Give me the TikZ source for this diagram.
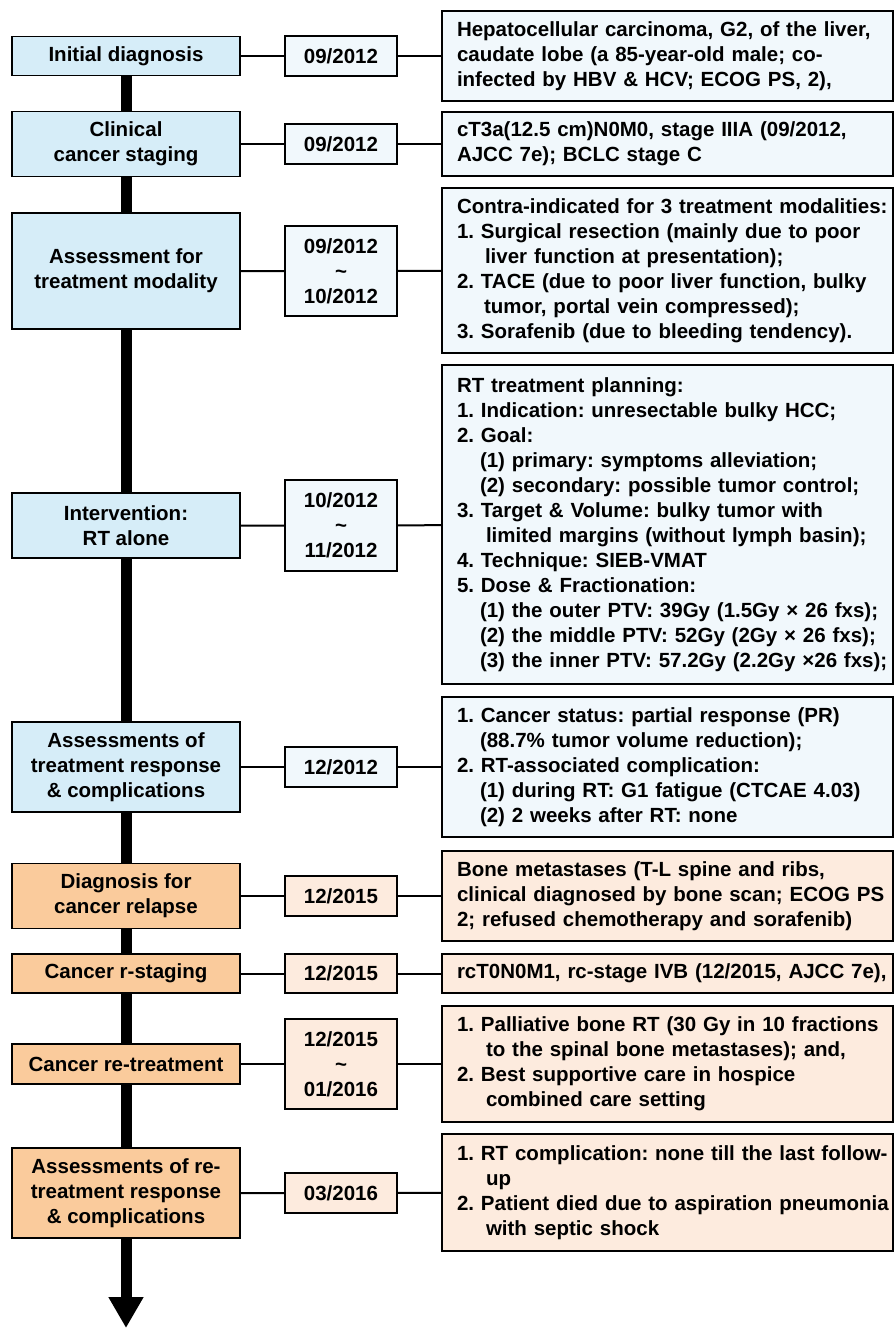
\documentclass[tikz,border=0pt]{standalone}
\usepackage{fontspec}
\setmainfont{Liberation Sans}
\usetikzlibrary{arrows.meta,backgrounds}
\definecolor{stageblue}{RGB}{214,237,248}
\definecolor{paleblue}{RGB}{241,248,252}
\definecolor{stageorange}{RGB}{250,203,156}
\definecolor{paleorange}{RGB}{253,235,222}
\frenchspacing

\begin{document}
\begin{tikzpicture}[x=1pt,y=1pt,yscale=-1,xscale=1,
	every node/.style={font=\fontsize{20.5}{25}\selectfont\bfseries\frenchspacing},
	stage/.style={draw,line width=1.5pt,minimum width=228pt,align=center,inner sep=0pt},
	datebox/.style={draw,line width=1.5pt,minimum width=112pt,align=center,inner sep=0pt},
	notebox/.style={draw,line width=1.5pt,text width=421pt,inner xsep=15pt,inner ysep=0pt},
	link/.style={line width=2pt},
	spine/.style={line width=11pt,-{Triangle[width=33pt,length=31pt]}}]
	\useasboundingbox (0,0) rectangle (894,1328);

	\node [stage,fill=stageblue,minimum height=39pt] (diag) at (126,56) {Initial diagnosis};
	\node [datebox,fill=paleblue,minimum height=40pt] (diag-date) at (341,56) {09/2012};
	\node [notebox,fill=paleblue,minimum height=90pt] (diag-note) at (667.5,56) {\begin{tabular}{@{}l@{}}
		Hepatocellular carcinoma, G2, of the liver,\\
		caudate lobe (a 85-year-old male; co-\\
		infected by HBV \& HCV; ECOG PS, 2),
	\end{tabular}};

	\node [stage,fill=stageblue,minimum height=65pt] (staging) at (126,144) {Clinical\\cancer staging};
	\node [datebox,fill=paleblue,minimum height=40pt] (staging-date) at (341,144) {09/2012};
	\node [notebox,fill=paleblue,minimum height=64pt] (staging-note) at (667.5,144) {\begin{tabular}{@{}l@{}}
		cT3a(12.5 cm)N0M0, stage IIIA (09/2012,\\
		AJCC 7e); BCLC stage C
	\end{tabular}};

	\node [stage,fill=stageblue,minimum height=116pt] (modality) at (126,271) {Assessment for\\treatment modality};
	\node [datebox,fill=paleblue,minimum height=90pt] (modality-date) at (341,271) {09/2012\\\textasciitilde\\10/2012};
	\node [notebox,fill=paleblue,minimum height=165pt] (modality-note) at (667.5,270.5) {\begin{tabular}{@{}l@{}}
		Contra-indicated for 3 treatment modalities:\\
		1. Surgical resection (mainly due to poor\\
		\hspace*{28pt}liver function at presentation);\\
		2. TACE (due to poor liver function, bulky\\
		\hspace*{27pt}tumor, portal vein compressed);\\
		3. Sorafenib (due to bleeding tendency).
	\end{tabular}};

	\node [stage,fill=stageblue,minimum height=65pt] (rt) at (126,525.5) {Intervention:\\RT alone};
	\node [datebox,fill=paleblue,minimum height=91pt] (rt-date) at (341,525.5) {10/2012\\\textasciitilde\\11/2012};
	\node [notebox,fill=paleblue,minimum height=319pt] (rt-note) at (667.5,524.5) {\begin{tabular}{@{}l@{}}
		RT treatment planning:\\
		1. Indication: unresectable bulky HCC;\\
		2. Goal:\\
		\hspace*{23pt}(1) primary: symptoms alleviation;\\
		\hspace*{23pt}(2) secondary: possible tumor control;\\
		3. Target \& Volume: bulky tumor with\\
		\hspace*{29pt}limited margins (without lymph basin);\\
		4. Technique: SIEB-VMAT\\
		5. Dose \& Fractionation:\\
		\hspace*{23pt}(1) the outer PTV: 39Gy (1.5Gy × 26 fxs);\\
		\hspace*{23pt}(2) the middle PTV: 52Gy (2Gy × 26 fxs);\\
		\hspace*{23pt}(3) the inner PTV: 57.2Gy (2.2Gy ×26 fxs);
	\end{tabular}};

	\node [stage,fill=stageblue,minimum height=90pt] (resp) at (126,767) {Assessments of\\treatment response\\\& complications};
	\node [datebox,fill=paleblue,minimum height=40pt] (resp-date) at (341,767) {12/2012};
	\node [notebox,fill=paleblue,minimum height=140pt] (resp-note) at (667.5,767) {\begin{tabular}{@{}l@{}}
		1. Cancer status: partial response (PR)\\
		\hspace*{23pt}(88.7\% tumor volume reduction);\\
		2. RT-associated complication:\\
		\hspace*{23pt}(1) during RT: G1 fatigue (CTCAE 4.03)\\
		\hspace*{23pt}(2) 2 weeks after RT: none
	\end{tabular}};

	\node [stage,fill=stageorange,minimum height=65pt] (relapse) at (126,896) {Diagnosis for\\cancer relapse};
	\node [datebox,fill=paleorange,minimum height=40pt] (relapse-date) at (341,896) {12/2015};
	\node [notebox,fill=paleorange,minimum height=90pt] (relapse-note) at (667.5,896) {\begin{tabular}{@{}l@{}}
		Bone metastases (T-L spine and ribs,\\
		clinical diagnosed by bone scan; ECOG PS\\
		2; refused chemotherapy and sorafenib)
	\end{tabular}};

	\node [stage,fill=stageorange,minimum height=39pt] (restage) at (126,973.5) {Cancer r-staging};
	\node [datebox,fill=paleorange,minimum height=39pt] (restage-date) at (341,973.5) {12/2015};
	\node [notebox,fill=paleorange,minimum height=39pt] (restage-note) at (667.5,973.5) {\begin{tabular}{@{}l@{}}
		rcT0N0M1, rc-stage IVB (12/2015, AJCC 7e),
	\end{tabular}};

	\node [stage,fill=stageorange,minimum height=40pt] (retreat) at (126,1064) {Cancer re-treatment};
	\node [datebox,fill=paleorange,minimum height=90pt] (retreat-date) at (341,1064) {12/2015\\\textasciitilde\\01/2016};
	\node [notebox,fill=paleorange,minimum height=116pt] (retreat-note) at (667.5,1064) {\begin{tabular}{@{}l@{}}
		1. Palliative bone RT (30 Gy in 10 fractions\\
		\hspace*{29pt}to the spinal bone metastases); and,\\
		2. Best supportive care in hospice\\
		\hspace*{29pt}combined care setting
	\end{tabular}};

	\node [stage,fill=stageorange,minimum height=90pt] (reresp) at (126,1193) {Assessments of re-\\treatment response\\\& complications};
	\node [datebox,fill=paleorange,minimum height=40pt] (reresp-date) at (341,1193) {03/2016};
	\node [notebox,fill=paleorange,minimum height=117pt] (reresp-note) at (667.5,1192.5) {\begin{tabular}{@{}l@{}}
		1. RT complication: none till the last follow-\\
		\hspace*{29pt}up\\
		2. Patient died due to aspiration pneumonia\\
		\hspace*{29pt}with septic shock
	\end{tabular}};

	\coordinate (tip) at (126,1328);
	\begin{scope}[on background layer]
		\draw [spine] (diag.south) -- (tip);
	\end{scope}

	\draw [link] (diag) -- (diag-date) (diag-date) -- (diag-note);
	\draw [link] (staging) -- (staging-date) (staging-date) -- (staging-note);
	\draw [link] (modality) -- (modality-date) (modality-date) -- (modality-note);
	\draw [link] (rt) -- (rt-date) (rt-date) -- (rt-note);
	\draw [link] (resp) -- (resp-date) (resp-date) -- (resp-note);
	\draw [link] (relapse) -- (relapse-date) (relapse-date) -- (relapse-note);
	\draw [link] (restage) -- (restage-date) (restage-date) -- (restage-note);
	\draw [link] (retreat) -- (retreat-date) (retreat-date) -- (retreat-note);
	\draw [link] (reresp) -- (reresp-date) (reresp-date) -- (reresp-note);
\end{tikzpicture}
\end{document}
